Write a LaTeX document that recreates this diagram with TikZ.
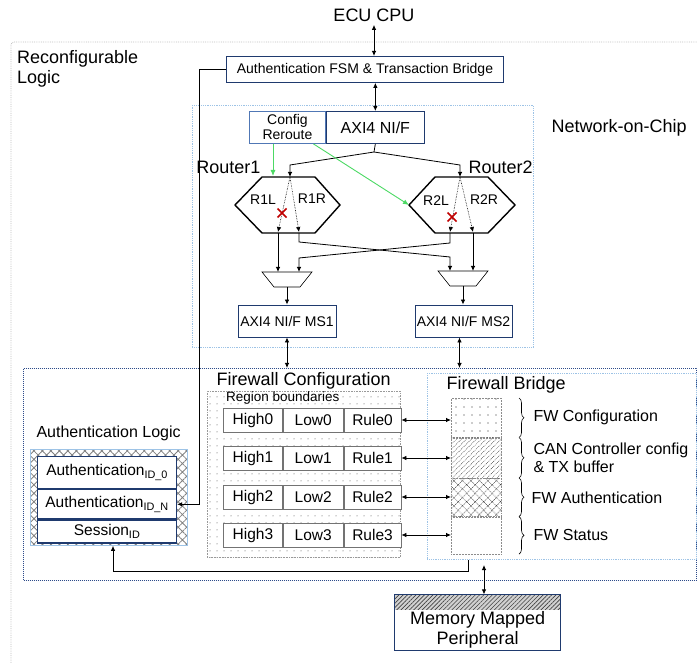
\documentclass[tikz,border=0pt]{standalone}
\usepackage{fontspec}
\setmainfont{Liberation Sans}
\usetikzlibrary{arrows.meta,positioning,patterns.meta,decorations.pathreplacing,calc}
\definecolor{navycol}{HTML}{1F3A6E}
\definecolor{cfgcol}{HTML}{5077B5}
\definecolor{noccol}{HTML}{9DC3E6}
\definecolor{seccol}{HTML}{2E4C8A}
\definecolor{greencol}{HTML}{4CD964}
\definecolor{cutcol}{HTML}{C00000}
\newcommand{\fsz}[2]{\fontsize{#1}{#2}\selectfont}

\begin{document}
\begin{tikzpicture}[
  x=1pt, y=-1pt,
  font=\fsz{14}{16},
  blk/.style={draw=navycol, line width=0.9pt, fill=white, inner sep=1pt, align=center},
  cfgblk/.style={draw=cfgcol, line width=0.9pt, fill=white, inner sep=1pt, align=center},
  cell/.style={draw=black!55, line width=0.8pt, fill=white, minimum height=24, inner sep=0pt,
               font=\fsz{15.5}{17}},
  authrow/.style={draw=navycol, line width=1.2pt, fill=white, minimum width=139, inner sep=0pt,
                  font=\fsz{15.5}{17}},
  slot/.style={draw=black!45, densely dotted, line width=0.5pt, minimum width=50, inner sep=0pt},
  muxline/.style={draw, line width=0.6pt},
  outerzone/.style={draw=black!25, densely dotted, line width=0.8pt, rounded corners=3pt},
  noczone/.style={draw=noccol, densely dotted, line width=0.8pt, inner sep=0pt},
  seczone/.style={draw=seccol, densely dotted, line width=1pt, inner sep=0pt},
  fwzone/.style={draw=black!40, densely dotted, line width=0.6pt, inner sep=0pt,
                 pattern={Dots[distance=7pt,radius=0.5pt]}, pattern color=black!75},
  flow/.style={-{Latex[length=5pt,width=4.5pt]}, line width=0.8pt},
  dflow/.style={{Latex[length=5pt,width=4.5pt]}-{Latex[length=5pt,width=4.5pt]}, line width=0.8pt},
  lane/.style={-{Latex[length=5pt,width=4.5pt]}, densely dotted, line width=0.6pt},
  reroute/.style={-{Latex[length=6pt,width=5pt]}, draw=greencol, line width=0.9pt},
  cut/.style={draw=cutcol, line width=1.6pt},
  router/.style={line width=1.4pt},
  fwbrace/.style={decorate, decoration={brace, amplitude=5pt}, line width=0.6pt},
  title/.style={font=\fsz{18}{20}},
  lbl/.style={font=\fsz{16}{18}},
]
\useasboundingbox (0,0) rectangle (697,663);

%============================ ZONES ============================
\draw[outerzone] (11,663) -- (11,42) -- (697,42);
\node[title, anchor=north west, align=left, inner sep=0pt] (rlLbl) at (17,50) {Reconfigurable\\Logic};
\node[noczone, minimum width=341, minimum height=242, anchor=north west] (noc) at (192,105) {};
\node[title, anchor=west] (nocLbl) at (548,128) {Network-on-Chip};
\node[seczone, minimum width=673, minimum height=212, anchor=north west] (sec) at (23,368) {};

%============================ CPU SIDE ============================
\node[title] (cpu) at (374,15) {ECU CPU};
\node[blk, minimum width=277, minimum height=26, anchor=north west] (fsm) at (226,56)
  {Authentication FSM \& Transaction Bridge};
\node[cfgblk, minimum width=76, minimum height=32, anchor=north west, font=\fsz{14}{15}] (cfg) at (249,111)
  {Config\\Reroute};
\node[blk, minimum width=98, minimum height=32, right=0pt of cfg, font=\fsz{16}{18}] (axi) {AXI4 NI/F};

\draw[dflow] (cpu.south) -- (cpu.south |- fsm.north);
\draw[dflow] (fsm.south -| axi) -- (axi.north);

%============================ ROUTERS ============================
\coordinate (split)  at (374,152);
\coordinate (r1in)   at (290,177);
\coordinate (r2in)   at (460,177);
\coordinate (r1Lout) at (278,233);
\coordinate (r1Rout) at (299,233);
\coordinate (r2Lout) at (450,233);
\coordinate (r2Rout) at (473,233);
\coordinate (r1x)    at (282,213);
\coordinate (r2x)    at (452,217);
\coordinate (r1cfg)  at (273,176);
\coordinate (r2left) at (409,205);

\draw[router] (235,205) -- (262,177) -- (315,177) -- (340,205) -- (315,233) -- (262,233) -- cycle;
\draw[router] (r2left) -- (435,177) -- (488,177) -- (515,205) -- (488,233) -- (435,233) -- cycle;

\node[title, anchor=east] (r1Lbl) at (264,167) {Router1};
\node[title, anchor=west] (r2Lbl) at (465,167) {Router2};
\node (r1L) at (263,200) {R1L};
\node (r1R) at (312,199) {R1R};
\node (r2L) at (436,201) {R2L};
\node (r2R) at (484,200) {R2R};

\draw[line width=0.8pt] (axi.south) -- (split);
\draw[flow] (split) -- ($(r1in)+(0,-12)$) -- (r1in);
\draw[flow] (split) -- ($(r2in)+(0,-12)$) -- (r2in);

% left/right lanes inside each router
\draw[lane] (r1in) -- ($(r1Lout)+(0,-1)$);
\draw[lane] (r1in) -- ($(r1Rout)+(0,-1)$);
\draw[lane] (r2in) -- ($(r2Lout)+(0,-1)$);
\draw[lane] (r2in) -- ($(r2Rout)+(0,-1)$);

\foreach \c in {r1x,r2x}
  \draw[cut] ($(\c)+(-4.5,-4.5)$) -- ($(\c)+(4.5,4.5)$) ($(\c)+(4.5,-4.5)$) -- ($(\c)+(-4.5,4.5)$);

% reroute control
\draw[reroute] (cfg.south -| r1cfg) -- (r1cfg);
\draw[reroute] ([xshift=26pt]cfg.south) -- (r2left);

% output multiplexers (top centre / bottom centre)
\coordinate (mux1) at (287,272);
\coordinate (mux2) at (463,271);
\coordinate (mux1out) at (287,287);
\coordinate (mux2out) at (463,286);
\foreach \m in {mux1,mux2}
  \draw[muxline] ($(\m)+(-25,0)$) -- ($(\m)+(25,0)$) -- ($(\m)+(13,15)$) -- ($(\m)+(-13,15)$) -- cycle;

\draw[flow] (r1Lout) -- (r1Lout |- mux1);
\draw[flow] (r2Rout) -- (r2Rout |- mux2);
\draw[flow] (r1Rout) -- ++(0,9) -- ($(r2Lout)+(0,24)$) -- (r2Lout |- mux2);
\draw[flow] (r2Lout) -- ++(0,10) -- ($(r1Rout)+(0,25)$) -- (r1Rout |- mux1);

\node[blk, minimum width=98, minimum height=32] (ms1) at (287,321) {AXI4 NI/F MS1};
\node[blk, minimum width=97, minimum height=32] (ms2) at (463.5,321) {AXI4 NI/F MS2};

\draw[flow] (mux1out) -- (mux1out |- ms1.north);
\draw[flow] (mux2out) -- (mux2out |- ms2.north);
\draw[dflow] (ms1.south) -- (ms1.south |- sec.north);
\draw[dflow] ([xshift=-4pt]ms2.south) -- ([xshift=-4pt]ms2.south |- sec.north);

%============================ AUTHENTICATION ============================
\node[lbl, anchor=west] (authLbl) at (33,433) {Authentication Logic};
\node[draw=noccol, line width=0.5pt, pattern={Hatch[angle=45,distance=6pt,line width=0.8pt]},
      pattern color=black!50, minimum width=157, minimum height=96, anchor=north west,
      inner sep=0pt] (authbg) at (30,449) {};
\node[authrow, minimum height=32, anchor=north west] (aid0) at (37,456) {Authentication\textsubscript{ID\_0}};
\node[authrow, minimum height=29, below=0pt of aid0] (aidN) {Authentication\textsubscript{ID\_N}};
\node[authrow, minimum height=23, below=0pt of aidN] (sid) {Session\textsubscript{ID}};

\coordinate (fsmtap) at (199,0);
\draw[flow] (fsm.west) -- (fsm.west -| fsmtap) -- (fsmtap |- aidN.east) -- (aidN.east);

%============================ FIREWALL ============================
\node[title, anchor=west] (fwcLbl) at (213,381) {Firewall Configuration};
\node[fwzone, minimum width=193, minimum height=166, anchor=north west] (fwcfg) at (207,391) {};
\node[font=\fsz{13.5}{15}, anchor=west, inner sep=0pt] (regLbl) at (226,398) {Region boundaries};
\foreach \i/\y in {0/420,1/458,2/497,3/535} {
  \node[cell, minimum width=59, anchor=west] (hi\i) at (223,\y) {High\i};
  \node[cell, minimum width=60, right=0pt of hi\i] (lo\i) {Low\i};
  \node[cell, minimum width=57, right=0pt of lo\i] (ru\i) {Rule\i};
}

\node[noczone, minimum width=269, minimum height=186, anchor=north west] (fwb) at (427,373) {};
\node[title, anchor=west] (fwbLbl) at (443,385) {Firewall Bridge};
\node[slot, minimum height=39, anchor=north west, pattern={Dots[distance=8pt,radius=0.7pt]},
      pattern color=black!85] (slotCfg) at (451,398) {};
\node[slot, minimum height=40, below=0pt of slotCfg,
      pattern={Lines[angle=45,distance=3.5pt,line width=0.5pt]}, pattern color=black!80] (slotCan) {};
\node[slot, minimum height=38, below=0pt of slotCan,
      pattern={Hatch[angle=45,distance=6pt,line width=0.6pt]}, pattern color=black!80] (slotAuth) {};
\node[slot, minimum height=37, below=0pt of slotAuth] (slotStat) {};

\foreach \i in {0,...,3}
  \draw[dflow] (ru\i.east) -- (ru\i.east -| slotCfg.west);

\coordinate (bx) at (519,0);
\foreach \s in {slotCfg,slotCan,slotAuth,slotStat}
  \draw[fwbrace] (\s.north -| bx) -- (\s.south -| bx);

\node[lbl, anchor=west] at ($(slotCfg.east -| bx)+(11,0)$) {FW Configuration};
\node[lbl, anchor=west, align=left] at ($(slotCan.east -| bx)+(11,0)$) {CAN Controller config\\\& TX buffer};
\node[lbl, anchor=west] at ($(slotAuth.east -| bx)+(9,0)$) {FW Authentication};
\node[lbl, anchor=west] at ($(slotStat.east -| bx)+(11,0)$) {FW Status};

% session feedback to the authentication table
\coordinate (retknee) at (468,571);
\coordinate (authtap) at (113,0);
\draw[flow] (fwb.south -| retknee) -- (retknee) -- (retknee -| authtap) -- (authtap |- authbg.south);

%============================ PERIPHERAL ============================
\node[font=\fsz{18}{20}, minimum width=165, minimum height=40, anchor=north west, inner sep=0pt,
      align=center] (mmp) at (395,610) {Memory Mapped\\Peripheral};
\node[preaction={fill=black!18}, pattern={Lines[angle=45,distance=3pt,line width=0.6pt]},
      pattern color=black!75, minimum width=165, minimum height=15, anchor=south,
      inner sep=0pt] (mmpTop) at (mmp.north) {};
\draw[navycol, line width=0.9pt] (mmpTop.north west) rectangle (mmp.south east);

\coordinate (mmptap) at (484,565);
\draw[dflow] (mmptap) -- (mmptap |- mmpTop.north);

\end{tikzpicture}
\end{document}
